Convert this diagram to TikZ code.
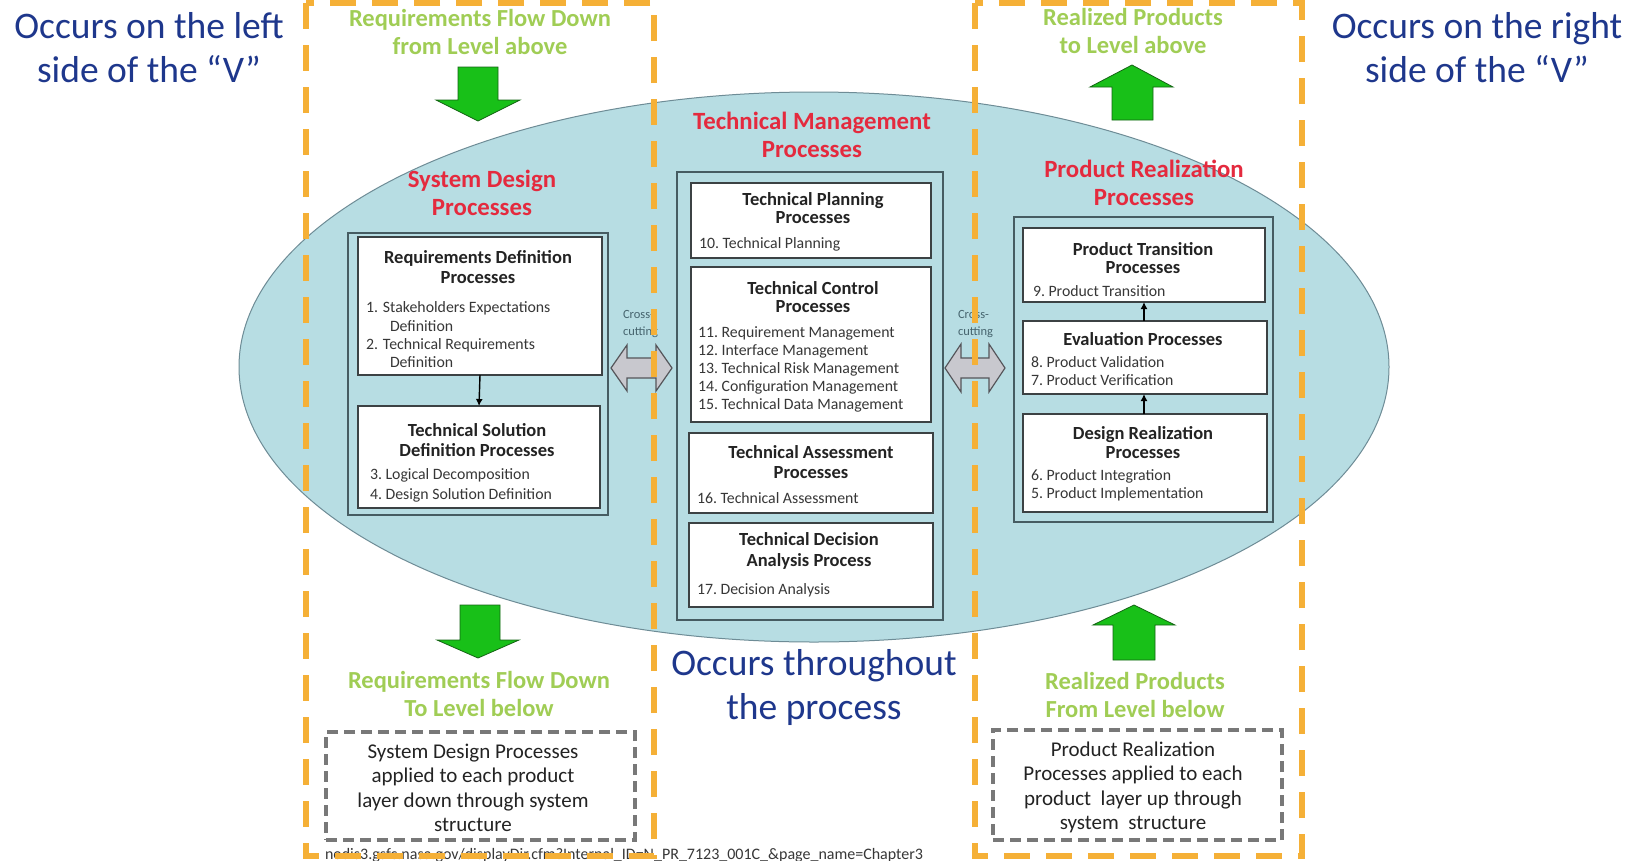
\documentclass[tikz,border=0pt]{standalone}
\usepackage{fontspec}
\setmainfont{Carlito}
\usetikzlibrary{arrows.meta}

\definecolor{vblue}{RGB}{30,55,140}
\definecolor{titlered}{RGB}{228,42,62}
\definecolor{flowgreen}{RGB}{160,205,85}
\definecolor{arrowgreen}{RGB}{24,192,24}
\definecolor{arrowedge}{RGB}{20,100,20}
\definecolor{ellfill}{RGB}{183,221,227}
\definecolor{ellline}{RGB}{110,140,150}
\definecolor{contline}{RGB}{70,92,98}
\definecolor{boxline}{RGB}{60,66,68}
\definecolor{txtdark}{RGB}{35,35,35}
\definecolor{txtitem}{RGB}{55,55,55}
\definecolor{crossfill}{RGB}{200,200,206}
\definecolor{crossline}{RGB}{85,85,90}
\definecolor{crosstext}{RGB}{70,100,110}
\definecolor{vorange}{RGB}{245,176,55}
\definecolor{dashgray}{RGB}{120,120,120}
\definecolor{urlgray}{RGB}{55,55,55}

\begin{document}
\begin{tikzpicture}[x=1pt,y=-1pt,
  every node/.style={inner sep=0pt, outer sep=0pt},
  sidenote/.style={font=\fontsize{37.5}{44}\selectfont, text=vblue, align=center, anchor=north},
  grouptitle/.style={font=\fontsize{24.8}{28}\selectfont\bfseries, text=titlered, align=center, anchor=north},
  flowtext/.style={font=\fontsize{24.5}{28}\selectfont\bfseries, text=flowgreen, align=center, anchor=north},
  container/.style={draw=contline, line width=1.8pt, fill=ellfill},
  procbox/.style={draw=boxline, line width=1.4pt, fill=white},
  boxtitle/.style={font=\fontsize{18.5}{#1}\selectfont\bfseries, text=txtdark, align=center, anchor=north},
  boxtitle/.default=19,
  boxitems/.style={font=\fontsize{15.8}{#1}\selectfont, text=txtitem, align=left, anchor=north west},
  boxitems/.default=18,
  flowarrow/.style={fill=arrowgreen, draw=arrowedge, line width=0.8pt, line join=miter},
  crossarrow/.style={fill=crossfill, draw=crossline, line width=1.2pt},
  crosslabel/.style={font=\fontsize{12.5}{17}\selectfont, text=crosstext, align=left, anchor=north west},
  scopebox/.style={draw=dashgray, line width=3.5pt, dash pattern=on 11pt off 6pt},
  scopetext/.style={font=\fontsize{21}{24.4}\selectfont, text=txtdark, align=center, anchor=north},
  sidefence/.style={draw=vorange, line width=6pt, dash pattern=on 26pt off 16pt},
  linkarrow/.style={draw=black, line width=1.4pt, -{Latex[length=7pt,width=7pt]}}
]
\useasboundingbox (0,0) rectangle (1631,860);
\fill[white] (0,0) rectangle (1631,860);

% central ellipse
\draw[fill=ellfill, draw=ellline, line width=1pt] (814,367) ellipse [x radius=575pt, y radius=275pt];

% side notes
\node[sidenote] (leftnote) at (149,12) {Occurs on the left\\side of the “V”};
\node[sidenote] (rightnote) at (1477,12) {Occurs on the right\\side of the “V”};
\node[sidenote] (midnote) at (814,649) {Occurs throughout\\the process};

% group titles
\node[grouptitle] (sdtitle) at (482,170) {System Design\\Processes};
\node[grouptitle] (tmtitle) at (812,112) {Technical Management\\Processes};
\node[grouptitle] (prtitle) at (1144,160) {Product Realization\\Processes};

% flow labels
\node[flowtext] (flowTL) at (480,9) {Requirements Flow Down\\from Level above};
\node[flowtext] (flowTR) at (1133,8) {Realized Products\\to Level above};
\node[flowtext] (flowBL) at (479,671) {Requirements Flow Down\\To Level below};
\node[flowtext] (flowBR) at (1135,672) {Realized Products\\From Level below};

% green flow arrows
\draw[flowarrow] (458,67) -- (498,67) -- (498,100) -- (520,100) -- (478,121) -- (436,100) -- (458,100) -- cycle;
\draw[flowarrow] (460,605) -- (500,605) -- (500,640) -- (519,640) -- (478,658) -- (437,640) -- (460,640) -- cycle;
\draw[flowarrow] (1112,120) -- (1153,120) -- (1153,87) -- (1173,87) -- (1132,65) -- (1090,87) -- (1112,87) -- cycle;
\draw[flowarrow] (1113,660) -- (1155,660) -- (1155,625) -- (1175,625) -- (1134,605) -- (1093,625) -- (1113,625) -- cycle;

% containers
\node[container, minimum width=260, minimum height=282] (leftgrp) at (478,374) {};
\node[container, minimum width=266, minimum height=448] (midgrp) at (810,396) {};
\node[container, minimum width=259, minimum height=305] (rightgrp) at (1143.5,369.5) {};

% system design processes
\node[procbox, minimum width=244, minimum height=138] (rd) at (480,306) {};
\node[boxtitle=20] (rdt) at (478,250) {Requirements Definition\\Processes};
\node[boxitems=18.3] (rdi) at (366,302) {\makebox[17pt][l]{1.}Stakeholders Expectations\\\hspace*{24pt}Definition\\\makebox[17pt][l]{2.}Technical Requirements\\\hspace*{24pt}Definition};

\node[procbox, minimum width=242, minimum height=102] (ts) at (479,457) {};
\node[boxtitle=20] (tst) at (477,423) {Technical Solution\\Definition Processes};
\node[boxitems=20] (tsi) at (370,469) {3.\ Logical Decomposition\\4.\ Design Solution Definition};

\draw[linkarrow] (rd.south) -- (ts.north);

% technical management processes
\node[procbox, minimum width=240, minimum height=75] (tp) at (811,220.5) {};
\node[boxtitle=18] (tpt) at (813,193) {Technical Planning\\Processes};
\node[boxitems] (tpi) at (699,238) {10.\ Technical Planning};

\node[procbox, minimum width=240, minimum height=155] (tc) at (811,344.5) {};
\node[boxtitle=18] (tct) at (813,282) {Technical Control\\Processes};
\node[boxitems] (tci) at (698,327) {11.\ Requirement Management\\12.\ Interface Management\\13.\ Technical Risk Management\\14.\ Configuration Management\\15.\ Technical Data Management};

\node[procbox, minimum width=244, minimum height=80] (ta) at (811,473) {};
\node[boxtitle=20] (tat) at (811,446) {Technical Assessment\\Processes};
\node[boxitems] (tai) at (697,493) {16.\ Technical Assessment};

\node[procbox, minimum width=244, minimum height=84] (td) at (811,565) {};
\node[boxtitle=21] (tdt) at (809,533) {Technical Decision\\Analysis Process};
\node[boxitems] (tdi) at (697,584) {17.\ Decision Analysis};

% product realization processes
\node[procbox, minimum width=242, minimum height=74] (pt) at (1144,265) {};
\node[boxtitle=18] (ptt) at (1143,242) {Product Transition\\Processes};
\node[boxitems] (pti) at (1033,286) {9.\ Product Transition};

\node[procbox, minimum width=244, minimum height=73] (ev) at (1145,357.5) {};
\node[boxtitle] (evt) at (1143,332) {Evaluation Processes};
\node[boxitems] (evi) at (1031,357) {8.\ Product Validation\\7.\ Product Verification};

\node[procbox, minimum width=244, minimum height=98] (dr) at (1145,463) {};
\node[boxtitle] (drt) at (1143,426) {Design Realization\\Processes};
\node[boxitems] (dri) at (1031,470) {6.\ Product Integration\\5.\ Product Implementation};

\draw[linkarrow] (dr.north -| 1144,0) -- (ev.south -| 1144,0);
\draw[linkarrow] (ev.north -| 1144,0) -- (pt.south -| 1144,0);

% cross-cutting arrows
\draw[crossarrow] (611,368) -- (627,345) -- (627,358) -- (656,358) -- (656,345) -- (672,368) -- (656,391) -- (656,378) -- (627,378) -- (627,391) -- cycle;
\node[crosslabel] (ccl) at (623,310) {Cross-\\cutting};
\draw[crossarrow] (945,368) -- (961,344) -- (961,358) -- (989,358) -- (989,344) -- (1005,368) -- (989,392) -- (989,378) -- (961,378) -- (961,392) -- cycle;
\node[crosslabel] (ccr) at (958,310) {Cross-\\cutting};

% recursion notes
\node[scopebox, minimum width=309, minimum height=108] (scl) at (480.5,786) {};
\node[scopetext] (sclt) at (473,744) {System Design Processes\\applied to each product\\layer down through system\\structure};
\node[scopebox, minimum width=289, minimum height=110] (scr) at (1137.5,785) {};
\node[scopetext] (scrt) at (1133,742) {Product Realization\\Processes applied to each\\product\ \ layer up through\\system\ \ structure};

% source line
\node[anchor=base west, font=\fontsize{16}{18}\selectfont, text=urlgray] (src) at (325,859) {nodis3.gsfc.nasa.gov/displayDir.cfm?Internal\_ID=N\_PR\_7123\_001C\_\&page\_name=Chapter3};

% left and right "V" bands
\draw[sidefence] (306,3) rectangle (654,856);
\draw[sidefence] (975,3) rectangle (1302,856);
\end{tikzpicture}
\end{document}
